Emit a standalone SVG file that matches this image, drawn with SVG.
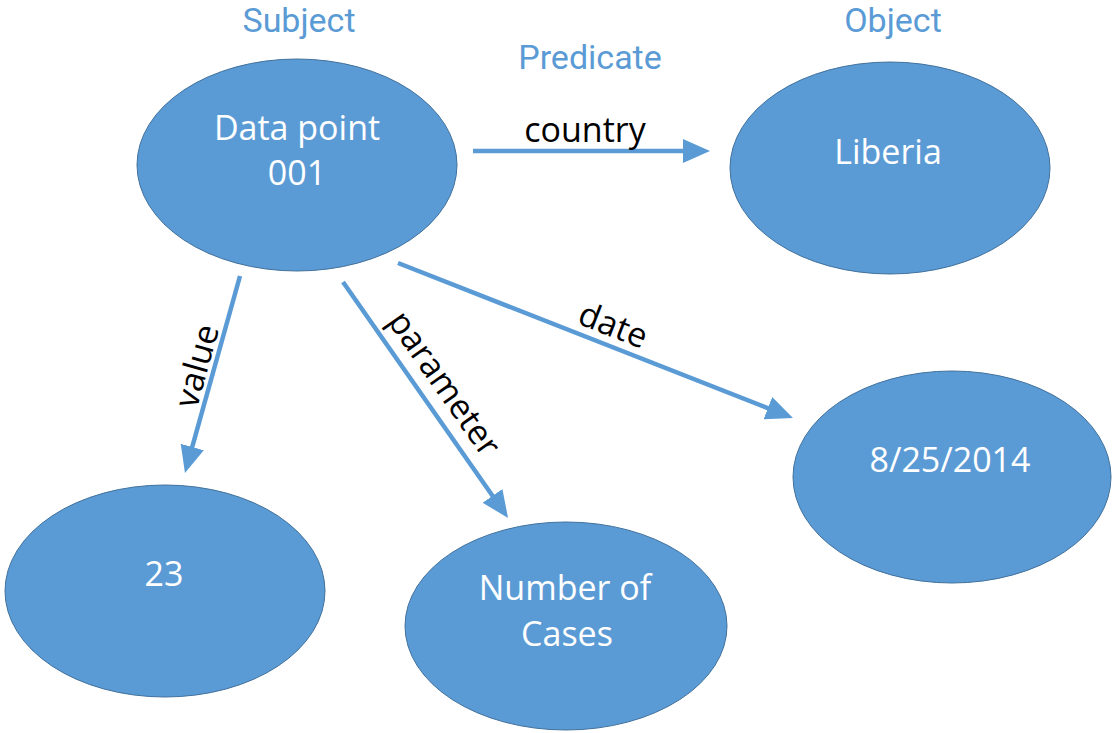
<svg xmlns="http://www.w3.org/2000/svg" width="1113" height="733" viewBox="0 0 1113 733">
<style>
.node{fill:#5B9BD5;stroke:#41719C;stroke-width:1}
.nt{font-family:"Open Sans","Noto Sans",sans-serif;font-size:34px;fill:#FFFFFF;text-anchor:middle}
.title{font-family:Roboto,"Open Sans",sans-serif;font-size:34px;fill:#5B9BD5;text-anchor:middle}
.lbl{font-family:"Open Sans","Noto Sans",sans-serif;font-size:34px;fill:#000000;text-anchor:middle}
.edge{stroke:#5B9BD5;stroke-width:4.5;fill:none}
</style>
<defs>
<marker id="arr" markerUnits="userSpaceOnUse" viewBox="0 0 27 24" markerWidth="27" markerHeight="24" refX="2" refY="12" orient="auto">
<path d="M0,0 L27,12 L0,24 z" fill="#5B9BD5"/>
</marker>
</defs>
<rect width="1113" height="733" fill="#FFFFFF"/>
<g id="titles">
<text class="title" x="299" y="32">Subject</text>
<text class="title" x="590" y="69">Predicate</text>
<text class="title" x="893" y="32">Object</text>
</g>
<g id="connectors">
<line class="edge" x1="473" y1="151" x2="685" y2="151" marker-end="url(#arr)"/>
<line class="edge" x1="240" y1="276" x2="191.7" y2="448.9" marker-end="url(#arr)"/>
<line class="edge" x1="343" y1="282" x2="493.7" y2="497.5" marker-end="url(#arr)"/>
<line class="edge" x1="398" y1="263" x2="769.7" y2="408.9" marker-end="url(#arr)"/>
<text class="lbl" x="585" y="142">country</text>
<text class="lbl" transform="translate(208,369) rotate(-74.4)">value</text>
<text class="lbl" transform="translate(435,390) rotate(55)">parameter</text>
<text class="lbl" transform="translate(609,336) rotate(21.4)">date</text>
</g>
<g id="node-datapoint">
<ellipse class="node" cx="297" cy="165" rx="160" ry="106"/>
<text class="nt" x="297" y="140">Data point</text>
<text class="nt" x="297" y="185">001</text>
</g>
<g id="node-liberia">
<ellipse class="node" cx="890" cy="168" rx="160" ry="106"/>
<text class="nt" x="888" y="164">Liberia</text>
</g>
<g id="node-23">
<ellipse class="node" cx="165" cy="591" rx="160" ry="106"/>
<text class="nt" x="164" y="586">23</text>
</g>
<g id="node-cases">
<ellipse class="node" cx="566" cy="626" rx="161" ry="104"/>
<text class="nt" x="565" y="600">Number of</text>
<text class="nt" x="567" y="646">Cases</text>
</g>
<g id="node-date">
<ellipse class="node" cx="952" cy="477" rx="159" ry="106"/>
<text class="nt" x="950" y="472">8/25/2014</text>
</g>
</svg>
